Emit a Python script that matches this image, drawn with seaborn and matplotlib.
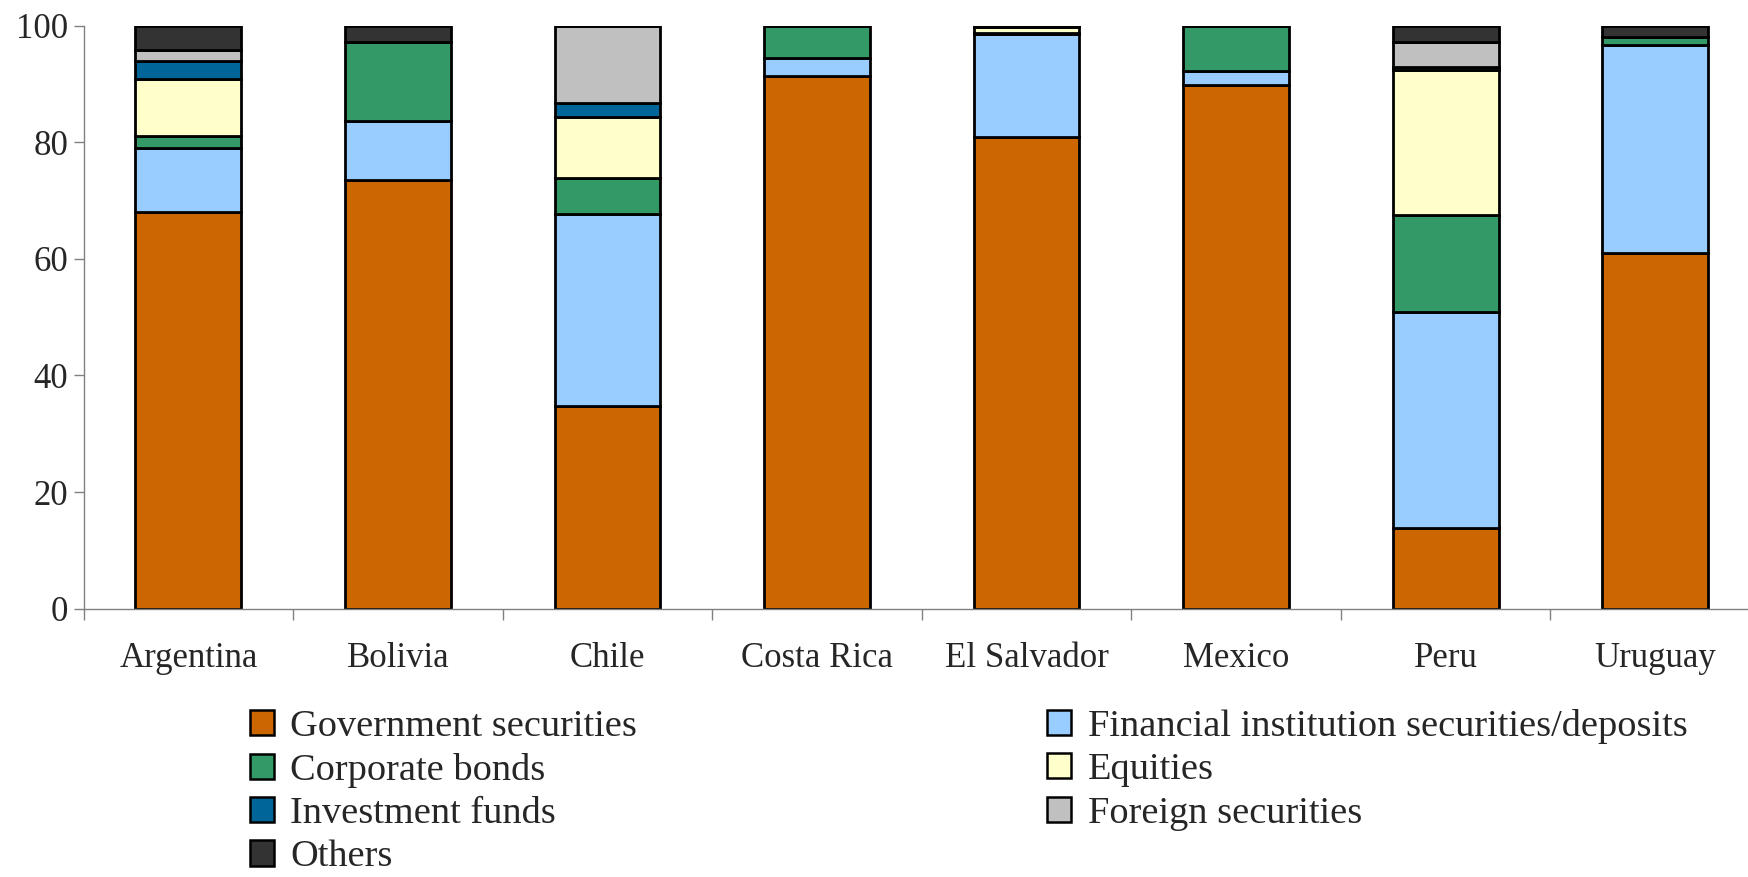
import matplotlib
matplotlib.use("Agg")
import matplotlib.pyplot as plt
import seaborn as sns
import pandas as pd
import numpy as np
from matplotlib.patches import Patch
from matplotlib.ticker import FixedLocator

# Pension fund portfolio composition by country (% of total)
countries = ["Argentina", "Bolivia", "Chile", "Costa Rica", "El Salvador", "Mexico", "Peru", "Uruguay"]

government = [68.0, 73.5, 34.8, 91.3, 80.9, 89.8, 13.8, 61.0]
financial = [11.0, 10.1, 32.9, 3.2, 17.6, 2.4, 37.1, 35.6]
corporate = [2.0, 13.6, 6.2, 5.5, 0.3, 7.8, 16.7, 1.5]
equities = [9.8, 0.0, 10.5, 0.0, 0.9, 0.0, 24.7, 0.0]
investment = [3.1, 0.0, 2.3, 0.0, 0.3, 0.0, 0.6, 0.0]
foreign = [1.9, 0.0, 13.3, 0.0, 0.0, 0.0, 4.3, 0.0]
others = [4.2, 2.8, 0.0, 0.0, 0.0, 0.0, 2.8, 1.9]

series_names = [
    "Government securities",
    "Financial institution securities/deposits",
    "Corporate bonds",
    "Equities",
    "Investment funds",
    "Foreign securities",
    "Others",
]
series_values = [government, financial, corporate, equities, investment, foreign, others]
series_colors = ["#CC6600", "#99CCFF", "#339966", "#FFFFCC", "#006699", "#C0C0C0", "#333333"]

sns.set_theme(style="white")
plt.rcParams["font.family"] = ["Liberation Serif", "DejaVu Serif"]

fig = plt.figure(figsize=(17.48, 8.77), dpi=100)
ax = fig.add_axes([83.6 / 1748, 1 - 608.7 / 877, (1760 - 83.6) / 1748, (608.7 - 25.6) / 877])

bottom = np.zeros(len(countries))
for name, vals, col in zip(series_names, series_values, series_colors):
    df = pd.DataFrame({"country": countries, "value": vals})
    sns.barplot(data=df, x="country", y="value", color=col, bottom=bottom,
                width=0.505, edgecolor="black", linewidth=2.0, saturation=1,
                errorbar=None, ax=ax, zorder=2)
    bottom = bottom + np.array(vals)

ax.set_ylim(0, 100)
ax.set_xlim(-0.5, len(countries) - 0.5)
ax.set_xlabel("")
ax.set_ylabel("")
ax.set_yticks([0, 20, 40, 60, 80, 100])

for side in ["top", "right"]:
    ax.spines[side].set_visible(False)
for side in ["left", "bottom"]:
    ax.spines[side].set_color("#808080")
    ax.spines[side].set_linewidth(1.0)

ax.tick_params(axis="y", which="major", left=True, length=7, width=1, color="#808080",
               labelsize=25, pad=4)
ax.tick_params(axis="x", which="major", bottom=False, labelsize=25, pad=18)
ax.xaxis.set_minor_locator(FixedLocator(np.arange(-0.5, len(countries), 1.0)))
ax.tick_params(axis="x", which="minor", bottom=True, length=8, width=1, color="#808080")

# legend in two columns, read row-wise
order = [0, 2, 4, 6, 1, 3, 5]
handles = [Patch(facecolor=series_colors[i], edgecolor="black", linewidth=1.8) for i in order]
labels = [series_names[i] for i in order]
fig.legend(handles, labels, ncol=2, loc="upper left",
           bbox_to_anchor=(250 / 1748, 1 - 709 / 877), frameon=False,
           fontsize=27.6, handlelength=0.63, handleheight=0.63, handletextpad=0.42,
           columnspacing=10.7, labelspacing=0.23, borderpad=0, borderaxespad=0)

fig.savefig("out.png", dpi=100)
